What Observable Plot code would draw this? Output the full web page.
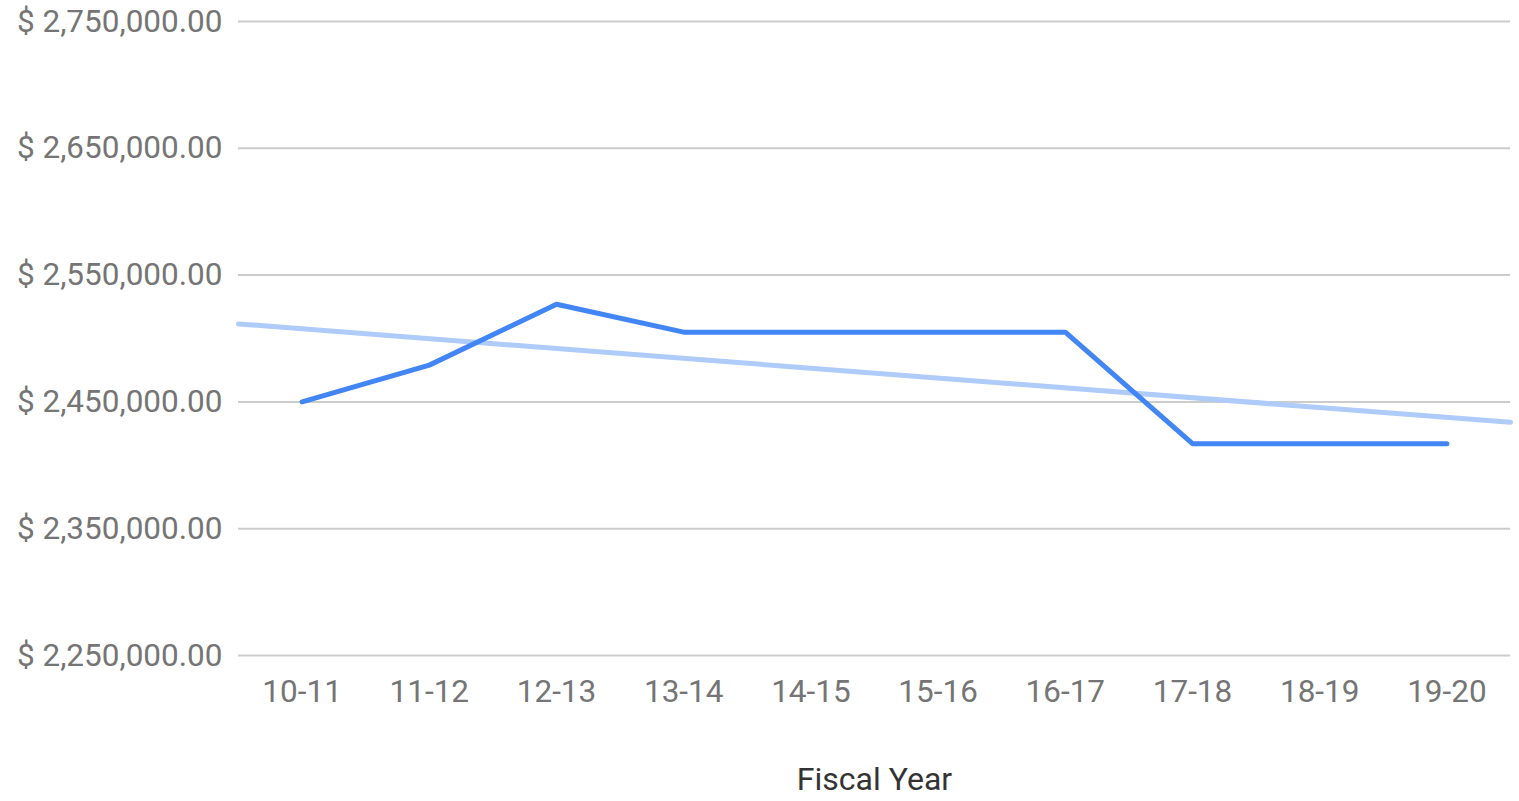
<!DOCTYPE html>
<html>
<head>
<meta charset="utf-8">
<script src="https://cdn.jsdelivr.net/npm/d3@7"></script>
<script src="https://cdn.jsdelivr.net/npm/@observablehq/plot@0.6"></script>
<style>
  html, body { margin: 0; padding: 0; background: #fff; }
  #chart svg { display: block; font-family: Roboto, sans-serif; }
</style>
</head>
<body>
<div id="chart"></div>
<script>
// Fiscal years along the x axis
const years = ["10-11", "11-12", "12-13", "13-14", "14-15", "15-16", "16-17", "17-18", "18-19", "19-20"];
// Budget per fiscal year, in dollars
const budget = [2450000, 2479000, 2527000, 2505000, 2505000, 2505000, 2505000, 2417000, 2417000, 2417000];
// Y axis tick values
const yTicks = [2250000, 2350000, 2450000, 2550000, 2650000, 2750000];

const data = years.map((year, i) => ({i, year, value: budget[i]}));

// Least-squares trend line across the fiscal years
const mx = d3.mean(data, d => d.i);
const my = d3.mean(data, d => d.value);
const slope = d3.sum(data, d => (d.i - mx) * (d.value - my)) / d3.sum(data, d => (d.i - mx) ** 2);
const trendAt = x => my + slope * (x - mx);
const trend = [-0.5, years.length - 0.5].map(x => ({x, value: trendAt(x)}));

const fmt = d3.format(",.2f");

const chart = Plot.plot({
  width: 1519,
  height: 801,
  marginLeft: 238,
  marginRight: 9,
  marginTop: 21,
  marginBottom: 146,
  style: {fontFamily: "Roboto, sans-serif", fontSize: "31.5px", color: "#757575", background: "#fff"},
  x: {type: "linear", domain: [-0.5, years.length - 0.5], ticks: d3.range(years.length), tickFormat: i => years[i], tickSize: 0, tickPadding: 24, label: null},
  y: {domain: [2250000, 2750000], ticks: yTicks, tickFormat: d => "$ " + fmt(d), tickSize: 0, tickPadding: 16, label: null},
  marks: [
    Plot.gridY(yTicks, {stroke: "#cccccc", strokeOpacity: 1, strokeWidth: 2}),
    Plot.line(trend, {x: "x", y: "value", stroke: "#aecbfa", strokeWidth: 5}),
    Plot.line(data, {x: "i", y: "value", stroke: "#4285f4", strokeWidth: 5, strokeLinejoin: "round"}),
    Plot.text(["Fiscal Year"], {frameAnchor: "bottom", dy: 134, fill: "#333333", fontSize: 32})
  ]
});

document.getElementById("chart").append(chart);
</script>
</body>
</html>
